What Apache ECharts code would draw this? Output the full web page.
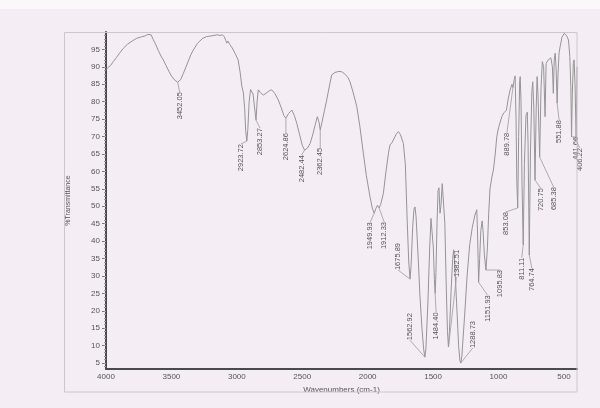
<!DOCTYPE html>
<html>
<head>
<meta charset="utf-8">
<script src="https://cdn.jsdelivr.net/npm/echarts@6/dist/echarts.min.js"></script>
<style>
  html, body { margin: 0; padding: 0; background: #f5edf4; }
  #chart { width: 600px; height: 408px; }
</style>
</head>
<body>
<div id="chart"></div>
<script>
// IR spectrum: [wavenumber (cm-1), %T] between the labelled minima
const spectrumPoints = [
  [4000,89.2],[3985,89.8],[3965,90.4],[3944,91.5],[3920,92.7],[3895,94.0],[3868,95.3],[3835,96.5],
  [3800,97.4],[3765,98.2],[3730,98.6],[3700,98.9],[3680,99.3],[3668,99.0],[3655,99.2],[3640,97.9],
  [3620,96.4],[3600,94.7],[3580,93.1],[3562,92.0],[3540,90.3],[3520,88.8],[3500,87.4],[3475,86.2],
  [3430,86.3],[3410,88.0],[3380,90.8],[3350,93.6],[3333,94.8],[3300,96.8],[3260,98.2],[3230,98.7],
  [3190,98.9],[3150,99.2],[3128,99.0],[3110,99.2],[3095,98.6],[3085,97.6],[3077,96.8],[3068,97.4],
  [3055,96.5],[3035,95.4],[3010,93.6],[2990,92.0],[2975,88.5],[2962,84.5],[2950,82.5],[2940,78],
  [2932,71.5],
  [2916,72],[2906,80],[2895,83.5],[2886,83.8],[2876,82.2],[2865,78.5],
  [2845,80],[2836,83.4],[2820,82.6],[2797,81.9],[2770,82.6],[2750,83.2],[2733,83.4],[2710,82.4],
  [2683,80.5],[2660,78.2],[2640,76.0],
  [2605,76.6],[2580,77.6],[2560,76.0],[2542,73.8],[2520,70.5],[2500,67.5],
  [2460,66.7],[2440,68.0],[2420,70.5],[2400,73.5],[2385,75.7],[2372,74.2],
  [2350,74.0],[2330,77.5],[2313,80.5],[2290,85.0],[2275,87.7],[2250,88.4],[2220,88.7],[2198,88.6],
  [2170,87.8],[2150,86.9],[2135,85.7],[2110,82.5],[2083,78.6],[2060,73.0],[2033,65.2],[2010,58.8],
  [1982,52.7],[1965,49.5],
  [1937,49.4],[1925,50.3],
  [1900,50.6],[1880,53.7],[1860,60.0],[1840,65.5],[1829,67.6],[1815,68.2],[1800,69.3],[1780,70.8],
  [1765,71.4],[1750,70.6],[1727,68.0],[1712,62],[1698,46],[1686,34],
  [1668,33],[1656,44],[1646,49.2],[1638,49.8],[1630,47],[1615,36],[1600,24],[1585,15],[1572,9],
  [1555,9],[1540,22],[1526,38],[1516,46.5],[1507,46.7],[1498,38],[1490,29],
  [1478,31],[1470,45],[1462,54.5],[1455,55.3],[1447,48],[1440,50],[1430,56.5],[1421,57.0],
  [1410,45],[1400,28],[1390,14],
  [1375,14],[1362,26],[1350,35],[1343,37.5],[1335,34],[1320,22],[1305,10],[1295,5.8],
  [1280,7],[1260,18],[1240,30],[1220,39],[1200,44],[1180,47.5],[1166,49.0],[1160,42],
  [1144,35],[1135,43],[1125,45.8],[1118,43],[1108,36],
  [1085,38],[1075,48],[1065,55],[1050,58.5],[1039,60.4],[1025,65],[1013,70],[1000,72.5],
  [975,75.7],[960,76.8],[950,76.3],[940,77.5],[925,81],[911,83.4],[897,85.0],
  [880,86.3],[873,87.4],[866,75],[860,57],
  [846,70],[838,86],[834,87.2],[828,80],[820,56],
  [802,62],[790,76],[780,77.0],[774,68],
  [756,65],[745,83],[738,85.7],[730,78],
  [712,78],[705,87.2],[698,82],
  [675,84],[665,91.5],[655,90],[644,75.7],[636,91],[620,92],[600,92.6],[593,92.9],
  [588,90],[581,82.4],[574,92],[567,93.9],[560,90],
  [545,88],[537,94],[529,95.8],[515,98.5],[498,99.6],[480,99.0],[465,97.7],[455,93],[447,84.3],
  [436,82],[428,91],[422,92],[415,85],
  [402,82],[400,90]
];

// Labelled band minima
const peakWavenumbers = [
  3452.05, 2923.72, 2853.27, 2624.86, 2482.44, 2362.45, 1949.93, 1912.33,
  1675.89, 1562.92, 1484.40, 1382.51, 1288.73, 1151.93, 1095.83, 889.78,
  853.08, 811.11, 764.74, 720.75, 685.38, 551.88, 441.66, 406.22
];
const peakTransmittance = [
  85.6, 68.7, 74.7, 75.3, 66.1, 71.9, 48.0, 49.5,
  29.1, 6.7, 25.0, 9.6, 5.0, 28.2, 31.7, 84.0,
  49.5, 38.9, 36.0, 57.5, 64.1, 79.6, 69.9, 69.0
];

const xTickLabels = [4000, 3500, 3000, 2500, 2000, 1500, 1000, 500];
const yTickLabels = [5, 10, 15, 20, 25, 30, 35, 40, 45, 50, 55, 60, 65, 70, 75, 80, 85, 90, 95];

// Label placement: [dx, dy, side] in px from the minimum; side 1 = text hangs below, -1 = text stands above
const peakLabelLayout = [
  [2, 10, 1], [-6, 3, 1], [4, 8, 1], [0, 15, 1], [-3, 5, 1], [0, 18, 1], [-4, 9, 1], [5, 14, 1],
  [-12, -9, -1], [-15, -17, -1], [1, 19, 1], [8, -70, -1], [12, -15, -1], [9, 13, 1], [14, 0, 1], [-6, 45, 1],
  [-12, 4, 1], [-1.5, 13, 1], [2.5, 13, 1], [5.5, 8, 1], [14, 30, 1], [2, 17, 1], [4, 0, 1], [3.5, 8, 1]
];

const peakPoints = peakWavenumbers.map((w, i) => [w, peakTransmittance[i]]);
const curve = spectrumPoints.concat(peakPoints).sort((a, b) => b[0] - a[0]);

const minorTicks = [];
for (let v = 4; v <= 99; v++) minorTicks.push(v);

const FONT = 'Liberation Sans, Arial, sans-serif';
const chart = echarts.init(document.getElementById('chart'), null, { renderer: 'canvas' });

chart.setOption({
  backgroundColor: '#f5edf4',
  animation: false,
  grid: { left: 106, right: 23, top: 32, bottom: 39, show: false },
  xAxis: {
    type: 'value', min: 400, max: 4000, inverse: true,
    name: 'Wavenumbers (cm-1)', nameLocation: 'middle', nameGap: 14,
    nameTextStyle: { fontSize: 8, color: '#555', fontFamily: FONT },
    axisLine: { show: true, onZero: false, lineStyle: { color: '#4a4a4a', width: 2 } },
    axisTick: { show: false },
    axisLabel: {
      customValues: xTickLabels, fontSize: 8, color: '#555', margin: 4, fontFamily: FONT,
      formatter: v => String(v)
    },
    splitLine: { show: false }
  },
  yAxis: [{
    type: 'value', min: 3.3, max: 100,
    name: '%Transmittance', nameLocation: 'middle', nameGap: 34, nameRotate: 90,
    nameTextStyle: { fontSize: 7, color: '#555', fontFamily: FONT },
    axisLine: { show: true, onZero: false, lineStyle: { color: '#4a4a4a', width: 2 } },
    axisTick: { show: true, customValues: yTickLabels, length: 4, lineStyle: { color: '#777', width: 1 } },
    axisLabel: { customValues: yTickLabels, fontSize: 8, color: '#555', margin: 6, fontFamily: FONT },
    splitLine: { show: false }
  }, {
    type: 'value', min: 3.3, max: 100, position: 'left',
    axisLine: { show: false },
    axisTick: { show: true, customValues: minorTicks, length: 2, lineStyle: { color: '#999', width: 1 } },
    axisLabel: { show: false },
    splitLine: { show: false }
  }],
  graphic: [{
    type: 'rect', z: -1, silent: true,
    shape: { x: 0, y: 0, width: 600, height: 9 },
    style: { fill: '#fbf8fb' }
  }, {
    type: 'rect', z: 100, silent: true,
    shape: { x: 64.5, y: 32.5, width: 512.5, height: 359.5 },
    style: { fill: 'none', stroke: '#cdc6cc', lineWidth: 1 }
  }],
  series: [{
    type: 'line', data: curve, showSymbol: false, symbol: 'none',
    lineStyle: { color: '#959595', width: 1 }, clip: true
  }, {
    type: 'custom', data: peakPoints, clip: false, z: 5,
    renderItem: function (params, api) {
      const i = params.dataIndex;
      const p = api.coord([api.value(0), api.value(1)]);
      const lay = peakLabelLayout[i];
      const ax = p[0] + lay[0], ay = p[1] + lay[1];
      return {
        type: 'group',
        children: [{
          type: 'line',
          shape: { x1: p[0], y1: p[1], x2: ax, y2: ay },
          style: { stroke: '#9a9a9a', lineWidth: 0.8 }
        }, {
          type: 'text', x: ax, y: ay, rotation: Math.PI / 2,
          style: {
            text: peakWavenumbers[i].toFixed(2), fontSize: 7.5, fill: '#555', fontFamily: FONT,
            align: lay[2] > 0 ? 'right' : 'left', verticalAlign: 'middle'
          }
        }]
      };
    }
  }]
});
</script>
</body>
</html>
